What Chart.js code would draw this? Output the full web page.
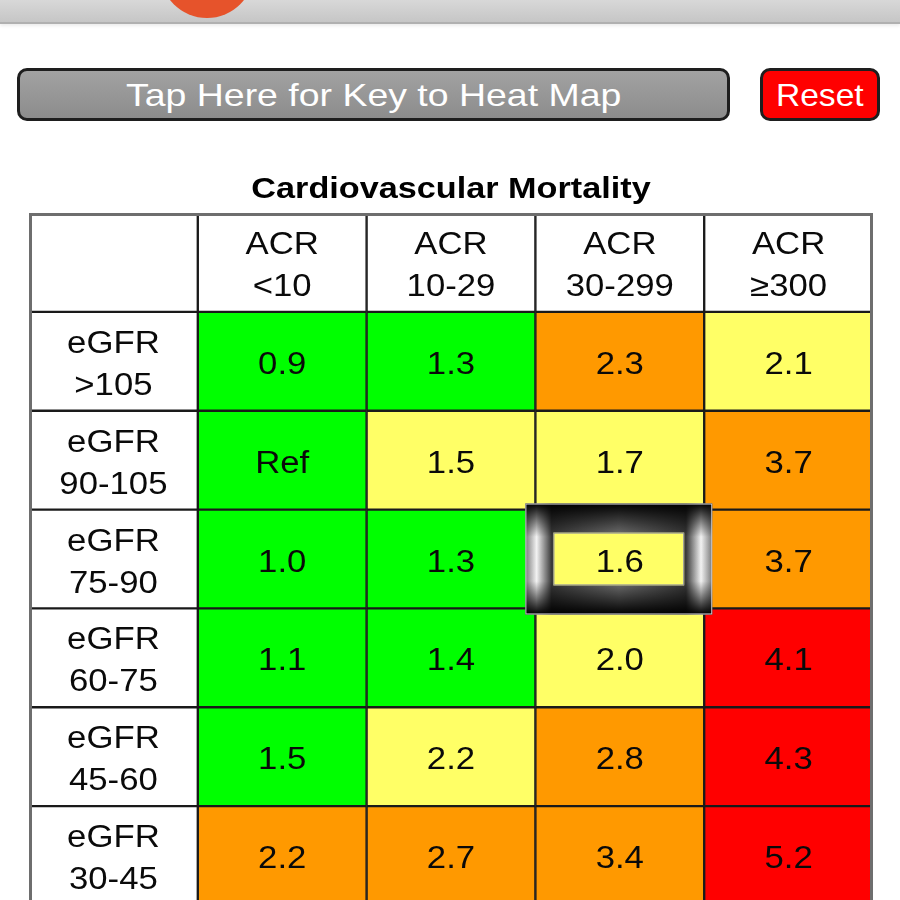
<!DOCTYPE html>
<html>
<head>
<meta charset="utf-8">
<script src="https://cdn.jsdelivr.net/npm/chart.js@4.4.1/dist/chart.umd.min.js"></script>
<style>
html, body { margin: 0; padding: 0; width: 900px; height: 900px; overflow: hidden; background: #fff; font-family: 'Liberation Sans', Arial, sans-serif; }
#topbar { position: absolute; left: 0; top: 0; width: 900px; height: 22px; background: linear-gradient(#d8d8d8, #c6c6c6); border-bottom: 2px solid #b0b0b0; overflow: hidden; box-shadow: 0 2px 3px rgba(0,0,0,0.08); }
#logo { position: absolute; left: 160px; top: -76px; width: 94px; height: 94px; border-radius: 50%; background: #e6532b; }
.btn { position: absolute; top: 68px; height: 47px; border: 3px solid #1e1e1e; border-radius: 10px; color: #fff; text-align: center; line-height: 49px; font-size: 32px; white-space: nowrap; }
.btn span { display: inline-block; transform: scaleX(1.17); }
#key { left: 17px; width: 707px; background: linear-gradient(#a2a2a2, #8c8c8c); }
#reset { left: 760px; width: 114px; background: #ff0000; }
#reset span { transform: scaleX(1.05); }
#wrap { position: absolute; left: 0; top: 160px; width: 900px; height: 745px; }
</style>
</head>
<body>
<div id="topbar"><div id="logo"></div></div>
<div class="btn" id="key"><span>Tap Here for Key to Heat Map</span></div>
<div class="btn" id="reset"><span>Reset</span></div>
<div id="wrap"><canvas id="heat"></canvas></div>
<script>
// Datos del mapa de calor
const chartTitle = 'Cardiovascular Mortality';
const acrLabels = [['ACR', '<10'], ['ACR', '10-29'], ['ACR', '30-299'], ['ACR', '≥300']];
const egfrLabels = [['eGFR', '>105'], ['eGFR', '90-105'], ['eGFR', '75-90'], ['eGFR', '60-75'], ['eGFR', '45-60'], ['eGFR', '30-45']];
// null = categoría de referencia
const hazardRatios = [
  [0.9, 1.3, 2.3, 2.1],
  [null, 1.5, 1.7, 3.7],
  [1.0, 1.3, 1.6, 3.7],
  [1.1, 1.4, 2.0, 4.1],
  [1.5, 2.2, 2.8, 4.3],
  [2.2, 2.7, 3.4, 5.2]
];
const riskLevels = [
  ['low', 'low', 'high', 'mid'],
  ['low', 'mid', 'mid', 'high'],
  ['low', 'low', 'mid', 'high'],
  ['low', 'low', 'mid', 'vhigh'],
  ['low', 'mid', 'high', 'vhigh'],
  ['high', 'high', 'high', 'vhigh']
];
const selectedCell = { row: 2, col: 2 };

const riskColors = { low: '#00ff00', mid: '#ffff66', high: '#ff9900', vhigh: '#ff0000' };
const FONT = "'Liberation Sans', Arial, sans-serif";
const STRETCH = 1.12;

// Fila 0 = cabecera, columna 0 = etiquetas eGFR
const datasets = [{ data: [1, 1, 1, 1, 1], backgroundColor: Array(5).fill('#ffffff') }];
riskLevels.forEach(row => {
  datasets.push({ data: [1, 1, 1, 1, 1], backgroundColor: ['#ffffff'].concat(row.map(r => riskColors[r])) });
});

function stretchedText(ctx, text, x, y, sx) {
  ctx.save();
  ctx.translate(x, y);
  ctx.scale(sx || STRETCH, 1);
  ctx.fillText(text, 0, 0);
  ctx.restore();
}

const cellPlugin = {
  id: 'cellPlugin',
  afterDatasetsDraw(chart) {
    const ctx = chart.ctx;
    const area = chart.chartArea;

    // marco exterior
    ctx.save();
    ctx.strokeStyle = '#6e6e6e';
    ctx.lineWidth = 3;
    ctx.strokeRect(area.left + 1.5, area.top + 1.5, area.right - area.left - 3, area.bottom - area.top - 3);

    // celda seleccionada
    const sel = chart.getDatasetMeta(selectedCell.row + 1).data[selectedCell.col + 1];
    const top = Math.min(sel.y, sel.base), bottom = Math.max(sel.y, sel.base);
    const left = sel.x - sel.width / 2, right = sel.x + sel.width / 2;
    const fx = left - 10, fy = top - 6, fw = right - left + 18, fh = bottom - top + 12;
    let g = ctx.createLinearGradient(fx, 0, fx + fw, 0);
    g.addColorStop(0, '#808080');
    g.addColorStop(0.06, '#ffffff');
    g.addColorStop(0.14, '#3c3c3c');
    g.addColorStop(0.5, '#7a7a7a');
    g.addColorStop(0.86, '#3c3c3c');
    g.addColorStop(0.94, '#ffffff');
    g.addColorStop(1, '#808080');
    ctx.fillStyle = g;
    ctx.fillRect(fx, fy, fw, fh);
    g = ctx.createLinearGradient(0, fy, 0, fy + fh);
    g.addColorStop(0, 'rgba(0,0,0,1)');
    g.addColorStop(0.3, 'rgba(0,0,0,0.05)');
    g.addColorStop(0.7, 'rgba(0,0,0,0.05)');
    g.addColorStop(1, 'rgba(0,0,0,1)');
    ctx.fillStyle = g;
    ctx.fillRect(fx, fy, fw, fh);
    ctx.strokeStyle = '#c8c8d0';
    ctx.lineWidth = 1;
    ctx.strokeRect(fx + 0.5, fy + 0.5, fw - 1, fh - 1);
    ctx.fillStyle = riskColors[riskLevels[selectedCell.row][selectedCell.col]];
    ctx.fillRect(left + 18, top + 23, right - left - 38, bottom - top - 46);
    ctx.strokeStyle = '#8a8aa0';
    ctx.strokeRect(left + 18.5, top + 23.5, right - left - 39, bottom - top - 47);

    // textos
    ctx.fillStyle = '#0a0a0a';
    ctx.textAlign = 'center';
    ctx.textBaseline = 'middle';
    ctx.font = '31px ' + FONT;
    for (let r = 0; r < 7; r++) {
      for (let c = 0; c < 5; c++) {
        const p = chart.getDatasetMeta(r).data[c].getCenterPoint();
        let lines = null;
        if (r === 0 && c > 0) lines = acrLabels[c - 1];
        else if (c === 0 && r > 0) lines = egfrLabels[r - 1];
        if (lines) {
          stretchedText(ctx, lines[0], p.x, p.y - 17);
          stretchedText(ctx, lines[1], p.x, p.y + 25);
        } else if (r > 0 && c > 0) {
          const v = hazardRatios[r - 1][c - 1];
          stretchedText(ctx, v === null ? 'Ref' : v.toFixed(1), p.x, p.y + 4);
        }
      }
    }

    // título
    ctx.font = 'bold 29px ' + FONT;
    ctx.fillStyle = '#000';
    stretchedText(ctx, chartTitle, (area.left + area.right) / 2, area.top - 23, 1.18);
    ctx.restore();
  }
};

new Chart(document.getElementById('heat').getContext('2d'), {
  type: 'bar',
  data: {
    labels: [''].concat(acrLabels.map(l => l.join(' '))),
    datasets: datasets.map(d => Object.assign(d, {
      borderColor: '#1a1a1a',
      borderWidth: 1.5,
      borderSkipped: false,
      barPercentage: 1,
      categoryPercentage: 1
    }))
  },
  options: {
    responsive: true,
    maintainAspectRatio: false,
    animation: false,
    layout: { padding: { left: 29, right: 27, top: 53, bottom: 0 } },
    scales: {
      x: { display: false, stacked: true },
      y: { display: false, stacked: true, min: 0, max: 7, reverse: true }
    },
    plugins: {
      legend: { display: false },
      tooltip: { enabled: false }
    }
  },
  plugins: [cellPlugin]
});
</script>
</body>
</html>
